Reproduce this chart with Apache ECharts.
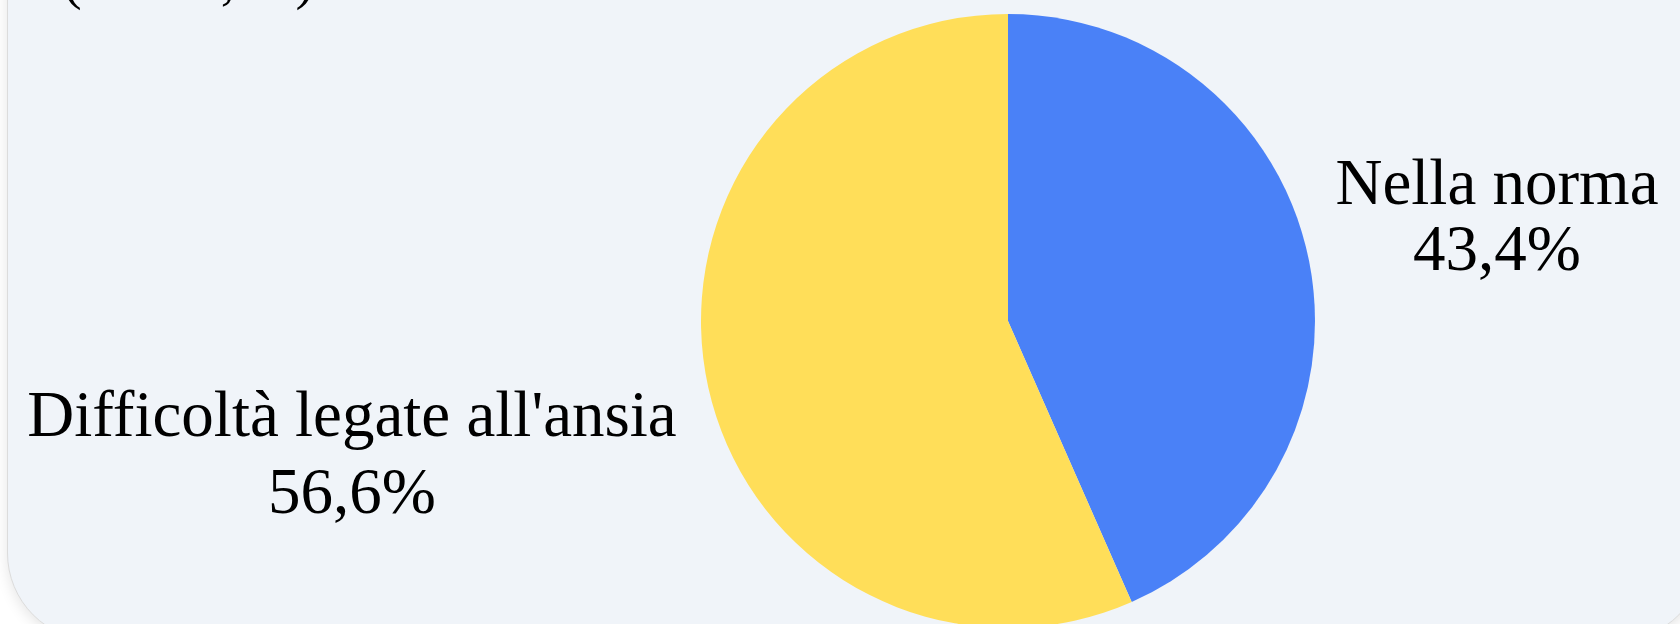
<!DOCTYPE html>
<html>
<head>
<meta charset="utf-8">
<script src="https://cdn.jsdelivr.net/npm/echarts@6/dist/echarts.min.js"></script>
<style>
  html, body { margin: 0; padding: 0; width: 1680px; height: 624px; overflow: hidden; background: #ffffff; }
  #card {
    position: absolute; left: 7px; top: -300px; width: 1698px; height: 941px;
    box-sizing: border-box; border: 1px solid #dcdcdc; border-radius: 88px;
    background: #f0f4f9; box-shadow: 0 4px 14px rgba(0,0,0,0.10);
  }
  #chart { position: absolute; left: 0; top: 0; width: 1680px; height: 624px; }
</style>
</head>
<body>
<div id="card"></div>
<div id="chart"></div>
<script>
// ---- data ----
var categories = ["Nella norma", "Difficoltà legate all'ansia"];
var values = [43.4, 56.6];
var sliceColors = ["#4a81f7", "#ffde59"];
var titleText = "(Totale, %)";

// ---- layout (label placement / styling only) ----
var labelPlacement = [
  { x: 1497, y: 220, lineHeight: 66 },
  { x: 352, y: 457, lineHeight: 77 }
];

var chart = echarts.init(document.getElementById('chart'), null, { renderer: 'canvas' });

var seriesData = categories.map(function (name, i) {
  return {
    name: name,
    value: values[i],
    itemStyle: { color: sliceColors[i] },
    label: { lineHeight: labelPlacement[i].lineHeight }
  };
});

chart.setOption({
  backgroundColor: 'transparent',
  animation: false,
  title: {
    text: titleText,
    left: 58,
    top: -50,
    textStyle: { fontFamily: 'Liberation Serif', fontSize: 56, fontWeight: 'normal', color: '#000', lineHeight: 56 }
  },
  series: [{
    type: 'pie',
    center: [1008, 321],
    radius: 307,
    startAngle: 90,
    clockwise: true,
    data: seriesData,
    itemStyle: { borderWidth: 0 },
    label: {
      show: true,
      position: 'outside',
      fontFamily: 'Liberation Serif',
      fontSize: 65,
      color: '#000',
      width: 720,
      overflow: 'none',
      align: 'center',
      formatter: function (p) {
        return p.name + '\n' + p.value.toFixed(1).replace('.', ',') + '%';
      }
    },
    labelLine: { show: false },
    labelLayout: function (p) {
      var pl = labelPlacement[p.dataIndex];
      return { x: pl.x, y: pl.y, align: 'center', verticalAlign: 'middle' };
    },
    emphasis: { disabled: true }
  }]
});
</script>
</body>
</html>
